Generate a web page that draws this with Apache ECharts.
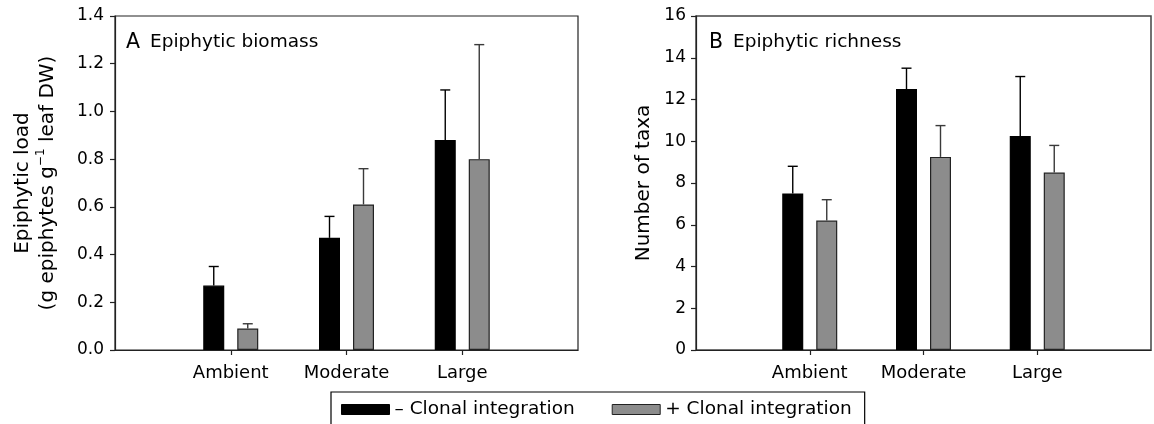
<!DOCTYPE html>
<html>
<head>
<meta charset="utf-8">
<script src="https://cdn.jsdelivr.net/npm/echarts@6/dist/echarts.min.js"></script>
<style>
  html, body { margin: 0; padding: 0; background: #fff; }
  #chart { width: 1154px; height: 424px; }
</style>
</head>
<body>
<div id="chart"></div>
<script>
// ---- data ----
const categories = ['Ambient', 'Moderate', 'Large'];
const seriesNames = ['\u2013 Clonal integration', '+ Clonal integration'];

// Panel A: epiphytic biomass (g epiphytes g-1 leaf DW)
const biomassMinus = [0.27, 0.47, 0.88];
const biomassMinusErr = [0.08, 0.09, 0.21];
const biomassPlus = [0.09, 0.61, 0.80];
const biomassPlusErr = [0.02, 0.15, 0.48];

// Panel B: epiphytic richness (number of taxa)
const richMinus = [7.5, 12.5, 10.25];
const richMinusErr = [1.3, 1.0, 2.85];
const richPlus = [6.2, 9.25, 8.5];
const richPlusErr = [1.0, 1.5, 1.3];

const ticksA = { min: 0, max: 1.4, interval: 0.2 };
const ticksB = { min: 0, max: 16, interval: 2 };

// ---- styles ----
const FONT = 'DejaVu Sans';
const BLACK = '#000000';
const GREY = '#8c8c8c';
const BAR_W = 21;
const BAR_GAP = 13;
const OFFSET = (BAR_W + BAR_GAP) / 2;

// pad categories so the axis spans one band beyond each side
const axisCats = [''].concat(categories, ['']);
const pad = arr => ['-'].concat(arr, ['-']);
const errData = (vals, errs) => vals.map((v, i) => [i + 1, v, v + errs[i]]);

function errorRender(offset, color) {
  return function (params, api) {
    const x = api.value(0);
    const base = api.coord([x, api.value(1)]);
    const top = api.coord([x, api.value(2)]);
    const cx = base[0] + offset;
    const st = { stroke: color, lineWidth: 1.4 };
    return {
      type: 'group',
      children: [
        { type: 'line', shape: { x1: cx, y1: base[1], x2: cx, y2: top[1] }, style: st },
        { type: 'line', shape: { x1: cx - 5, y1: top[1], x2: cx + 5, y2: top[1] }, style: st }
      ]
    };
  };
}

function xAxis(gridIndex) {
  return {
    type: 'category', gridIndex, data: axisCats, boundaryGap: false,
    axisLine: { lineStyle: { color: '#222', width: 1.2 } },
    axisTick: { show: true, length: 5, interval: (i) => i > 0 && i < axisCats.length - 1,
                lineStyle: { color: '#222', width: 1.2 } },
    axisLabel: { color: '#000', fontFamily: FONT, fontSize: 18, margin: 14, interval: 0 },
    splitLine: { show: false }
  };
}

function yAxis(gridIndex, t, dec, name, nameGap, margin) {
  return {
    type: 'value', gridIndex, min: t.min, max: t.max, interval: t.interval,
    axisLine: { show: true, lineStyle: { color: '#222', width: 1.2 } },
    axisTick: { show: true, length: 5, lineStyle: { color: '#222', width: 1.2 } },
    axisLabel: { color: '#000', fontFamily: FONT, fontSize: 17, margin: margin,
                 formatter: v => v.toFixed(dec) },
    splitLine: { show: false },
    name: name, nameLocation: 'middle', nameGap: nameGap, nameRotate: 90,
    nameTextStyle: {
      color: '#000', fontFamily: FONT, fontSize: 20, lineHeight: 25,
      rich: { sup: { fontFamily: FONT, fontSize: 12, color: '#000', verticalAlign: 'top', lineHeight: 25 } }
    }
  };
}

function barSeries(name, data, idx, color, border) {
  return {
    type: 'bar', name, xAxisIndex: idx, yAxisIndex: idx, data: pad(data),
    barWidth: BAR_W, barGap: (BAR_GAP / BAR_W * 100) + '%',
    itemStyle: { color: color, borderColor: border, borderWidth: 1.2 },
    emphasis: { disabled: true }, animation: false
  };
}

function errSeries(vals, errs, idx, offset, color) {
  return {
    type: 'custom', xAxisIndex: idx, yAxisIndex: idx,
    data: errData(vals, errs), renderItem: errorRender(offset, color),
    z: 3, silent: true, animation: false
  };
}

const chart = echarts.init(document.getElementById('chart'), null, { renderer: 'canvas' });
chart.setOption({
  animation: false,
  backgroundColor: '#fff',
  grid: [
    { left: 115, top: 16, width: 463, height: 334, show: true, borderColor: '#222', borderWidth: 1.2, backgroundColor: 'transparent' },
    { left: 696, top: 16, width: 463, height: 334, show: true, borderColor: '#444', borderWidth: 1.5, backgroundColor: 'transparent' }
  ],
  xAxis: [xAxis(0), xAxis(1)],
  yAxis: [
    yAxis(0, ticksA, 1, 'Epiphytic load\n(g epiphytes g{sup|\u22121} leaf DW)', 55, 11),
    yAxis(1, ticksB, 0, 'Number of taxa', 40, 10)
  ],
  legend: {
    data: [
      { name: seriesNames[0], itemStyle: { color: BLACK, borderColor: '#000', borderWidth: 1 } },
      { name: seriesNames[1], itemStyle: { color: GREY, borderColor: '#222', borderWidth: 1 } }
    ],
    left: 331, top: 392, orient: 'horizontal',
    padding: [8, 13, 10, 10], itemGap: 37, itemWidth: 48, itemHeight: 10,
    icon: 'rect', borderColor: '#000', borderWidth: 1.2,
    textStyle: { color: '#000', fontFamily: FONT, fontSize: 18.5 },
    selectedMode: false
  },
  graphic: [
    { type: 'text', left: 126, top: 32, style: { text: 'A', fontFamily: FONT, fontSize: 20.5, fill: '#000' } },
    { type: 'text', left: 150, top: 33, style: { text: 'Epiphytic biomass', fontFamily: FONT, fontSize: 18.5, fill: '#000' } },
    { type: 'text', left: 709, top: 32, style: { text: 'B', fontFamily: FONT, fontSize: 20.5, fill: '#000' } },
    { type: 'text', left: 733, top: 33, style: { text: 'Epiphytic richness', fontFamily: FONT, fontSize: 18.5, fill: '#000' } }
  ],
  series: [
    barSeries(seriesNames[0], biomassMinus, 0, BLACK, '#000'),
    barSeries(seriesNames[1], biomassPlus, 0, GREY, '#222'),
    errSeries(biomassMinus, biomassMinusErr, 0, -OFFSET, '#000'),
    errSeries(biomassPlus, biomassPlusErr, 0, OFFSET, '#3a3a3a'),
    barSeries(seriesNames[0], richMinus, 1, BLACK, '#000'),
    barSeries(seriesNames[1], richPlus, 1, GREY, '#222'),
    errSeries(richMinus, richMinusErr, 1, -OFFSET, '#000'),
    errSeries(richPlus, richPlusErr, 1, OFFSET, '#3a3a3a')
  ]
});
</script>
</body>
</html>
